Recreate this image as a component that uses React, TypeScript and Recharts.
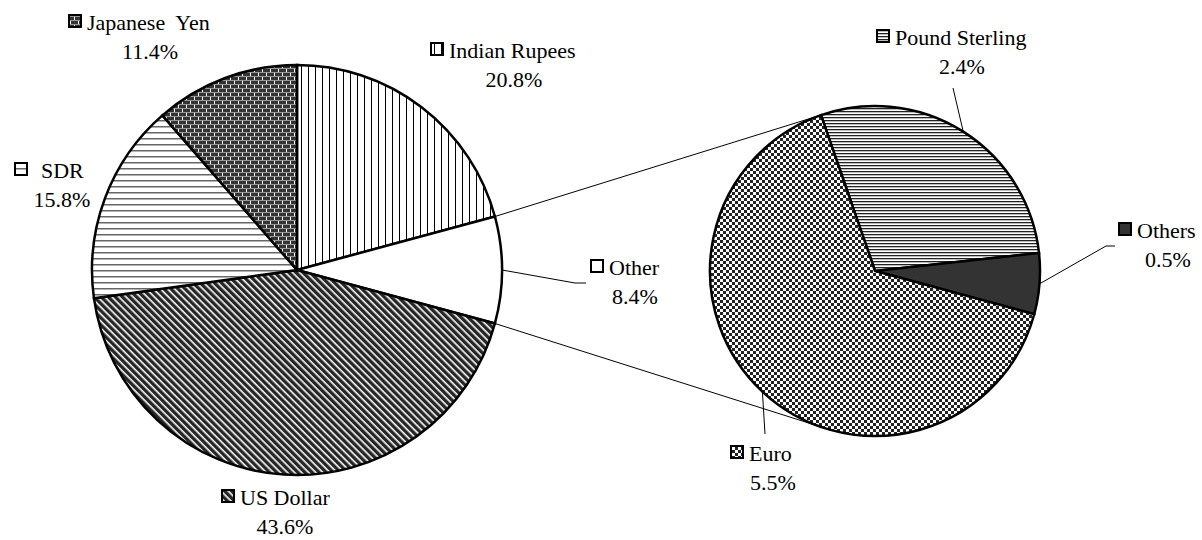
import React from "react"
import { PieChart, Pie, Cell } from "recharts"

// main pie
const mainNames = ["Indian Rupees", "Other", "US Dollar", "SDR", "Japanese  Yen"]
const mainValues = [20.8, 8.4, 43.6, 15.8, 11.4]
const mainFills = ["url(#pRupee)", "#ffffff", "url(#pUsd)", "url(#pSdr)", "url(#pYen)"]

// breakdown of "Other"
const subNames = ["Pound Sterling", "Others", "Euro"]
const subValues = [2.4, 0.5, 5.5]
const subFills = ["url(#pGbp)", "#333333", "url(#pEuro)"]

const mainData = mainNames.map((name, i) => ({ name, value: mainValues[i] }))
const subData = subNames.map((name, i) => ({ name, value: subValues[i] }))

const W = 1202
const H = 540
const FONT = "Liberation Serif"
const FS = 22

const MAIN = { cx: 297, cy: 270, r: 205 }
const SUB = { cx: 875, cy: 271, r: 165 }

const otherIdx = mainNames.indexOf("Other")
const mainTotal = mainValues.reduce((a, b) => a + b, 0)
// angles of "Other" slice in the main pie (clockwise from 12 o'clock)
const before = mainValues.slice(0, otherIdx).reduce((a, b) => a + b, 0)
const otherStart = 90 - (before / mainTotal) * 360
const otherEnd = otherStart - (mainValues[otherIdx] / mainTotal) * 360
// second pie is rotated so its first slice starts here
const subStart = 109.1

// label layout: marker left x, first line baseline y, percent centre x; optional leader line points
const labelPos: Record<string, { x: number; y: number; px: number; gap?: number; line?: number[][] }> = {
  "Japanese  Yen": { x: 68, y: 30, px: 150 },
  "Indian Rupees": { x: 430, y: 58, px: 514 },
  SDR: { x: 14, y: 178, px: 62, gap: 8 },
  Other: { x: 590, y: 275, px: 635, line: [[575, 283], [586, 283]] },
  "US Dollar": { x: 221, y: 505, px: 285 },
  "Pound Sterling": { x: 876, y: 45, px: 962, line: [[953, 88]] },
  Others: { x: 1118, y: 238, px: 1168, line: [[1106, 246], [1115, 246]] },
  Euro: { x: 730, y: 461, px: 773, line: [[765, 434]] },
}

const RAD = Math.PI / 180
const edge = (c: { cx: number; cy: number; r: number }, a: number) => [
  c.cx + c.r * Math.cos(a * RAD),
  c.cy - c.r * Math.sin(a * RAD),
]

const textStyle = { fontFamily: FONT, fontSize: FS, whiteSpace: "pre" as const }

const makeLabel = (fills: string[]) => (props: any) => {
  const { name, value, index } = props
  const pos = labelPos[name]
  if (!pos) return null
  return (
    <g key={name}>
      <rect x={pos.x + 1} y={pos.y - 15} width={12} height={12} fill={fills[index]} stroke="#000" strokeWidth={2} />
      <text x={pos.x + 19 + (pos.gap || 0)} y={pos.y} fontFamily={FONT} fontSize={FS} style={textStyle} fill="#000">
        {name}
      </text>
      <text x={pos.px} y={pos.y + 29} fontFamily={FONT} fontSize={FS} style={textStyle} fill="#000" textAnchor="middle">
        {value.toFixed(1)}%
      </text>
    </g>
  )
}

const makeLine = (c: { cx: number; cy: number; r: number }) => (props: any) => {
  const pos = labelPos[props.name]
  if (!pos || !pos.line) return <g key={props.name} />
  const start = edge(c, props.midAngle)
  const pts = [start, ...pos.line].map((p) => p.join(",")).join(" ")
  return <polyline key={props.name} points={pts} fill="none" stroke="#000" strokeWidth={1} />
}

function Patterns() {
  return (
    <svg width={0} height={0} style={{ position: "absolute" }}>
      <defs>
        <pattern id="pRupee" width={7} height={7} patternUnits="userSpaceOnUse">
          <rect width={7} height={7} fill="#fff" />
          <rect x={0} width={1} height={7} fill="#000" />
        </pattern>
        <pattern id="pSdr" width={6} height={6} patternUnits="userSpaceOnUse">
          <rect width={6} height={6} fill="#fff" />
          <rect y={0} width={6} height={1.5} fill="#666" />
        </pattern>
        <pattern id="pUsd" width={5} height={5} patternUnits="userSpaceOnUse" patternTransform="rotate(-45)">
          <rect width={5} height={5} fill="#fff" />
          <rect width={3.4} height={5} fill="#262626" />
        </pattern>
        <pattern id="pYen" width={8} height={8} patternUnits="userSpaceOnUse">
          <rect width={8} height={8} fill="#333" />
          <rect y={0} width={8} height={1} fill="#999" />
          <rect y={4} width={8} height={1} fill="#999" />
          <rect x={2} y={1} width={1} height={3} fill="#fff" />
          <rect x={6} y={5} width={1} height={3} fill="#fff" />
        </pattern>
        <pattern id="pGbp" width={3} height={3} patternUnits="userSpaceOnUse">
          <rect width={3} height={3} fill="#fff" />
          <rect width={3} height={1.3} fill="#222" />
        </pattern>
        <pattern id="pEuro" width={6} height={6} patternUnits="userSpaceOnUse">
          <rect width={6} height={6} fill="#fff" />
          <rect width={3} height={3} fill="#222" />
          <rect x={3} y={3} width={3} height={3} fill="#222" />
        </pattern>
      </defs>
    </svg>
  )
}

export default function App() {
  const a = edge(MAIN, otherStart)
  const b = edge(MAIN, otherEnd)
  const c = edge(SUB, subStart)
  const d = edge(SUB, -subStart)
  return (
    <div style={{ position: "relative", width: W, height: H, background: "#fff", fontFamily: FONT }}>
      <style>{`body{margin:0}`}</style>
      <Patterns />
      <PieChart width={W} height={H} margin={{ top: 0, right: 0, bottom: 0, left: 0 }}>
        <Pie
          data={mainData}
          dataKey="value"
          nameKey="name"
          cx={MAIN.cx}
          cy={MAIN.cy}
          outerRadius={MAIN.r}
          startAngle={90}
          endAngle={-270}
          stroke="#000"
          strokeWidth={2.5}
          label={makeLabel(mainFills)}
          labelLine={makeLine(MAIN)}
          isAnimationActive={false}
        >
          {mainData.map((e, i) => (
            <Cell key={e.name} fill={mainFills[i]} />
          ))}
        </Pie>
        <Pie
          data={subData}
          dataKey="value"
          nameKey="name"
          cx={SUB.cx}
          cy={SUB.cy}
          outerRadius={SUB.r}
          startAngle={subStart}
          endAngle={subStart - 360}
          stroke="#000"
          strokeWidth={2.5}
          label={makeLabel(subFills)}
          labelLine={makeLine(SUB)}
          isAnimationActive={false}
        >
          {subData.map((e, i) => (
            <Cell key={e.name} fill={subFills[i]} />
          ))}
        </Pie>
      </PieChart>
      <svg width={W} height={H} style={{ position: "absolute", left: 0, top: 0, pointerEvents: "none" }}>
        <line x1={a[0]} y1={a[1]} x2={c[0]} y2={c[1]} stroke="#000" strokeWidth={1} />
        <line x1={b[0]} y1={b[1]} x2={d[0]} y2={d[1]} stroke="#000" strokeWidth={1} />
      </svg>
    </div>
  )
}
